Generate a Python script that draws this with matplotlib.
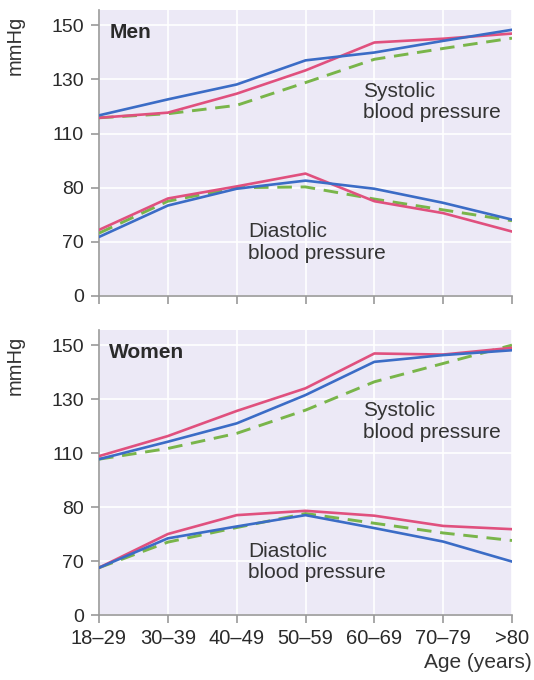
import numpy as np
import matplotlib
matplotlib.use("Agg")
import matplotlib.pyplot as plt

plt.rcParams['font.family'] = ['Liberation Sans', 'DejaVu Sans']

# age groups and y ticks (broken axis: equal spacing between ticks)
ages = ["18\u201329", "30\u201339", "40\u201349", "50\u201359", "60\u201369", "70\u201379", ">80"]
yticks = [0, 70, 80, 110, 130, 150]

# Men
men_sys_blue = [116.7, 122.6, 128.1, 137.0, 139.9, 144.2, 148.3]
men_sys_pink = [115.8, 117.7, 124.7, 133.3, 143.6, 145.0, 146.9]
men_sys_green = [115.8, 117.3, 120.4, 128.8, 137.4, 141.4, 145.2]
men_dia_blue = [70.9, 76.7, 79.8, 83.9, 79.8, 77.2, 74.1]
men_dia_pink = [72.2, 78.0, 80.7, 87.8, 77.5, 75.3, 71.9]
men_dia_green = [71.6, 77.5, 80.0, 80.4, 77.9, 75.9, 73.9]

# Women
women_sys_blue = [106.6, 114.2, 121.0, 131.5, 143.8, 146.3, 148.1]
women_sys_pink = [108.3, 116.3, 125.6, 134.0, 146.9, 146.5, 149.0]
women_sys_green = [106.6, 111.7, 117.3, 125.9, 136.4, 143.2, 150.0]
women_dia_blue = [61.3, 74.2, 76.4, 78.5, 76.1, 73.6, 69.3]
women_dia_pink = [61.3, 75.0, 78.5, 79.3, 78.4, 76.5, 75.9]
women_dia_green = [61.3, 73.5, 76.2, 78.8, 77.0, 75.2, 73.8]

BLUE = "#3b6cc6"
PINK = "#e0507e"
GREEN = "#79b54a"
BG = "#ece9f6"
GRAY = "#9a9a9a"
TXT = "#2a2a2a"

pos = np.arange(len(yticks))


def fwd(v):
    v = np.asarray(v, dtype=float)
    return np.interp(v, yticks, pos) + np.where(v > 150, (v - 150) / 20.0, 0)


def inv(p):
    p = np.asarray(p, dtype=float)
    return np.interp(p, pos, yticks) + np.where(p > 5, (p - 5) * 20.0, 0)


fig = plt.figure(figsize=(5.34, 6.8), dpi=100)
ax1 = fig.add_axes([99 / 534, 1 - 296 / 680, 413 / 534, 286 / 680])
ax2 = fig.add_axes([99 / 534, 1 - 615 / 680, 413 / 534, 285 / 680])

panels = [
    (ax1, "Men", men_sys_blue, men_sys_pink, men_sys_green,
     men_dia_blue, men_dia_pink, men_dia_green),
    (ax2, "Women", women_sys_blue, women_sys_pink, women_sys_green,
     women_dia_blue, women_dia_pink, women_dia_green),
]

x = np.arange(len(ages))
for ax, title, sb, sp, sg, db, dp, dg in panels:
    ax.set_yscale('function', functions=(fwd, inv))
    ax.set_facecolor(BG)
    ax.set_xlim(0, 6)
    ax.set_ylim(0, inv(5.28))
    ax.set_yticks(yticks)
    ax.set_yticklabels([str(t) for t in yticks])
    ax.minorticks_off()
    ax.set_xticks(x)
    ax.grid(True, color="white", linewidth=1.2)
    ax.set_axisbelow(True)
    for s in ["top", "right"]:
        ax.spines[s].set_visible(False)
    for s in ["left", "bottom"]:
        ax.spines[s].set_color(GRAY)
        ax.spines[s].set_linewidth(1.2)
    ax.tick_params(colors=GRAY, labelcolor=TXT, length=6, width=1.2,
                   direction="out")
    ax.tick_params(axis="y", labelsize=14, pad=5)
    ax.tick_params(axis="x", labelsize=14.5, pad=4)

    ax.plot(x, sg, color=GREEN, lw=2.1, ls=(0, (5, 3)), zorder=3)
    ax.plot(x, sp, color=PINK, lw=1.9, zorder=4)
    ax.plot(x, sb, color=BLUE, lw=1.9, zorder=4)
    ax.plot(x, dg, color=GREEN, lw=2.1, ls=(0, (5, 3)), zorder=3)
    ax.plot(x, dp, color=PINK, lw=1.9, zorder=4)
    ax.plot(x, db, color=BLUE, lw=1.9, zorder=4)

    ax.text(0.025, 0.955, title, transform=ax.transAxes, fontsize=15,
            fontweight="bold", color=TXT, va="top", ha="left")
    ax.text(3.835, 121.7, "Systolic\nblood pressure", fontsize=15,
            color="#333333", ha="left", va="center", linespacing=1.15)
    ax.text(2.165, 69.0, "Diastolic\nblood pressure", fontsize=15,
            color="#333333", ha="left", va="center", linespacing=1.15)

fig.text(15 / 534, 1 - 16 / 680, "mmHg", rotation=90, fontsize=14.5,
         color="#333333", ha="center", va="top")
fig.text(15 / 534, 1 - 336 / 680, "mmHg", rotation=90, fontsize=14.5,
         color="#333333", ha="center", va="top")

ax1.set_xticklabels([])
ax2.set_xticklabels(ages)
fig.text(532 / 534, 1 - 663 / 680, "Age (years)", fontsize=15,
         color="#333333", ha="right", va="center")

fig.savefig("out.png", dpi=100, facecolor="white")
